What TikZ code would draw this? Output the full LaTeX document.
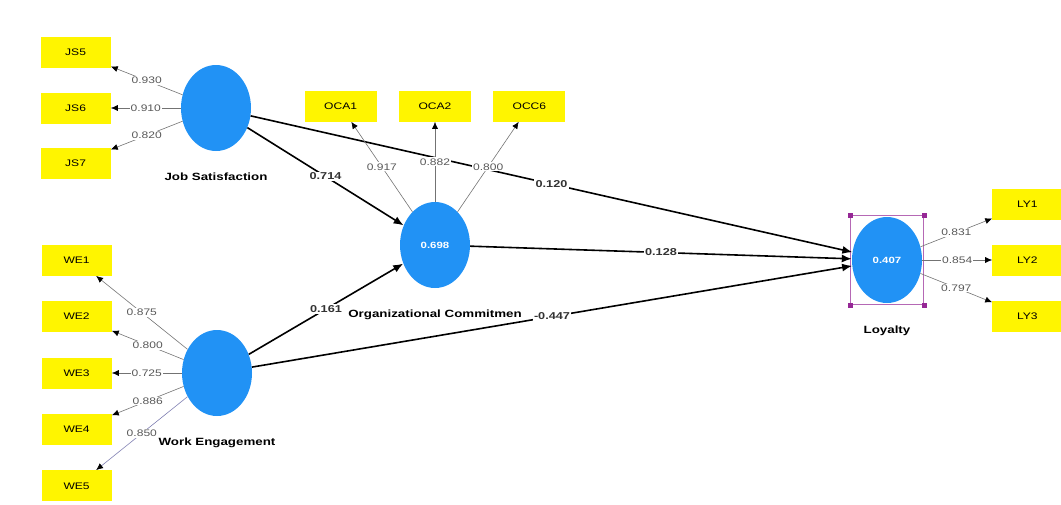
\documentclass[tikz,border=0pt]{standalone}
\usepackage{fontspec}
\setmainfont[FakeStretch=1.27]{Liberation Sans}
\usetikzlibrary{arrows.meta,positioning,shapes.geometric,fit}
\definecolor{lvblue}{RGB}{33,146,245}
\definecolor{mvyellow}{RGB}{255,245,0}
\definecolor{selpurple}{RGB}{150,40,150}
\tikzset{
  construct/.style={ellipse, fill=lvblue, minimum width=70pt, minimum height=86pt,
    inner sep=0pt, text=white, font=\fontsize{9}{10}\selectfont\bfseries},
  indicator/.style={fill=mvyellow, minimum width=70pt, minimum height=31pt,
    inner sep=0pt, font=\fontsize{9.5}{11}\selectfont},
  cname/.style={font=\fontsize{10.5}{12}\selectfont\bfseries, inner sep=1pt},
  loading/.style={-{Latex[length=7pt,width=6pt,color=black]}, draw=black!55, line width=.6pt},
  coef/.style={-{Latex[length=10pt,width=8pt]}, line width=1.6pt},
  lval/.style={font=\fontsize{9.5}{10}\selectfont, text=black!65, fill=white, inner sep=1pt},
  cval/.style={font=\fontsize{10}{11}\selectfont\bfseries, text=black!80, fill=white, inner sep=1.2pt},
  handle/.style={fill=selpurple, minimum size=5pt, inner sep=0pt},
}
\begin{document}
\begin{tikzpicture}[x=1pt, y=-1pt, node distance=24pt and 70pt]
\useasboundingbox (0,0) rectangle (1061,504);

% Latent variables
\node[construct] (js) at (216,108) {};
\node[construct] (oc) at (435,245) {0.698};
\node[construct] (we) at (217,373) {};
\node[construct] (ly) at (887,260) {0.407};

\node[cname, below=20pt of js] (jsname) {Job Satisfaction};
\node[cname, below=20pt of oc] (ocname) {Organizational Commitmen};
\node[cname, below=20pt of we] (wename) {Work Engagement};
\node[cname, below=21pt of ly] (lyname) {Loyalty};

% Selection frame round Loyalty
\node[draw=selpurple!70, line width=.6pt, fit=(ly), inner sep=1.5pt] (lysel) {};
\foreach \c [count=\i] in {north west, north east, south west, south east}
  \node[handle] (h\i) at (lysel.\c) {};

% Indicators
\node[indicator, left=of js] (js6) {JS6};
\node[indicator, above=of js6] (js5) {JS5};
\node[indicator, below=of js6] (js7) {JS7};

\node[indicator, minimum width=72pt, above=80pt of oc] (oca2) {OCA2};
\node[indicator, minimum width=72pt, left=22pt of oca2] (oca1) {OCA1};
\node[indicator, minimum width=72pt, right=22pt of oca2] (occ6) {OCC6};

\node[indicator, left=of we] (we3) {WE3};
\node[indicator, above=25pt of we3] (we2) {WE2};
\node[indicator, above=25pt of we2] (we1) {WE1};
\node[indicator, below=25pt of we3] (we4) {WE4};
\node[indicator, below=25pt of we4] (we5) {WE5};

\node[indicator, right=of ly] (ly2) {LY2};
\node[indicator, above=24pt of ly2] (ly1) {LY1};
\node[indicator, below=25pt of ly2] (ly3) {LY3};

% Inner model
\draw[coef] (js) -- node[cval] {0.714} (oc);
\draw[coef] (js) -- node[cval] {0.120} (ly);
\draw[coef] (oc) -- node[cval] {0.128} (ly);
\draw[coef] (we) -- node[cval] {0.161} (oc);
\draw[coef] (we) -- node[cval] {-0.447} (ly);

% Outer model
\draw[loading] (js) -- node[lval] {0.930} (js5);
\draw[loading] (js) -- node[lval] {0.910} (js6);
\draw[loading] (js) -- node[lval] {0.820} (js7);

\draw[loading] (oc) -- node[lval] {0.917} (oca1);
\draw[loading] (oc) -- node[lval] {0.882} (oca2);
\draw[loading] (oc) -- node[lval] {0.800} (occ6);

\draw[loading] (we) -- node[lval] {0.875} (we1);
\draw[loading] (we) -- node[lval] {0.800} (we2);
\draw[loading] (we) -- node[lval] {0.725} (we3);
\draw[loading] (we) -- node[lval] {0.886} (we4);
\draw[loading, draw=blue!40!black!50] (we) -- node[lval] {0.850} (we5);

\draw[loading] (ly) -- node[lval] {0.831} (ly1);
\draw[loading] (ly) -- node[lval] {0.854} (ly2);
\draw[loading] (ly) -- node[lval] {0.797} (ly3);

\end{tikzpicture}
\end{document}
